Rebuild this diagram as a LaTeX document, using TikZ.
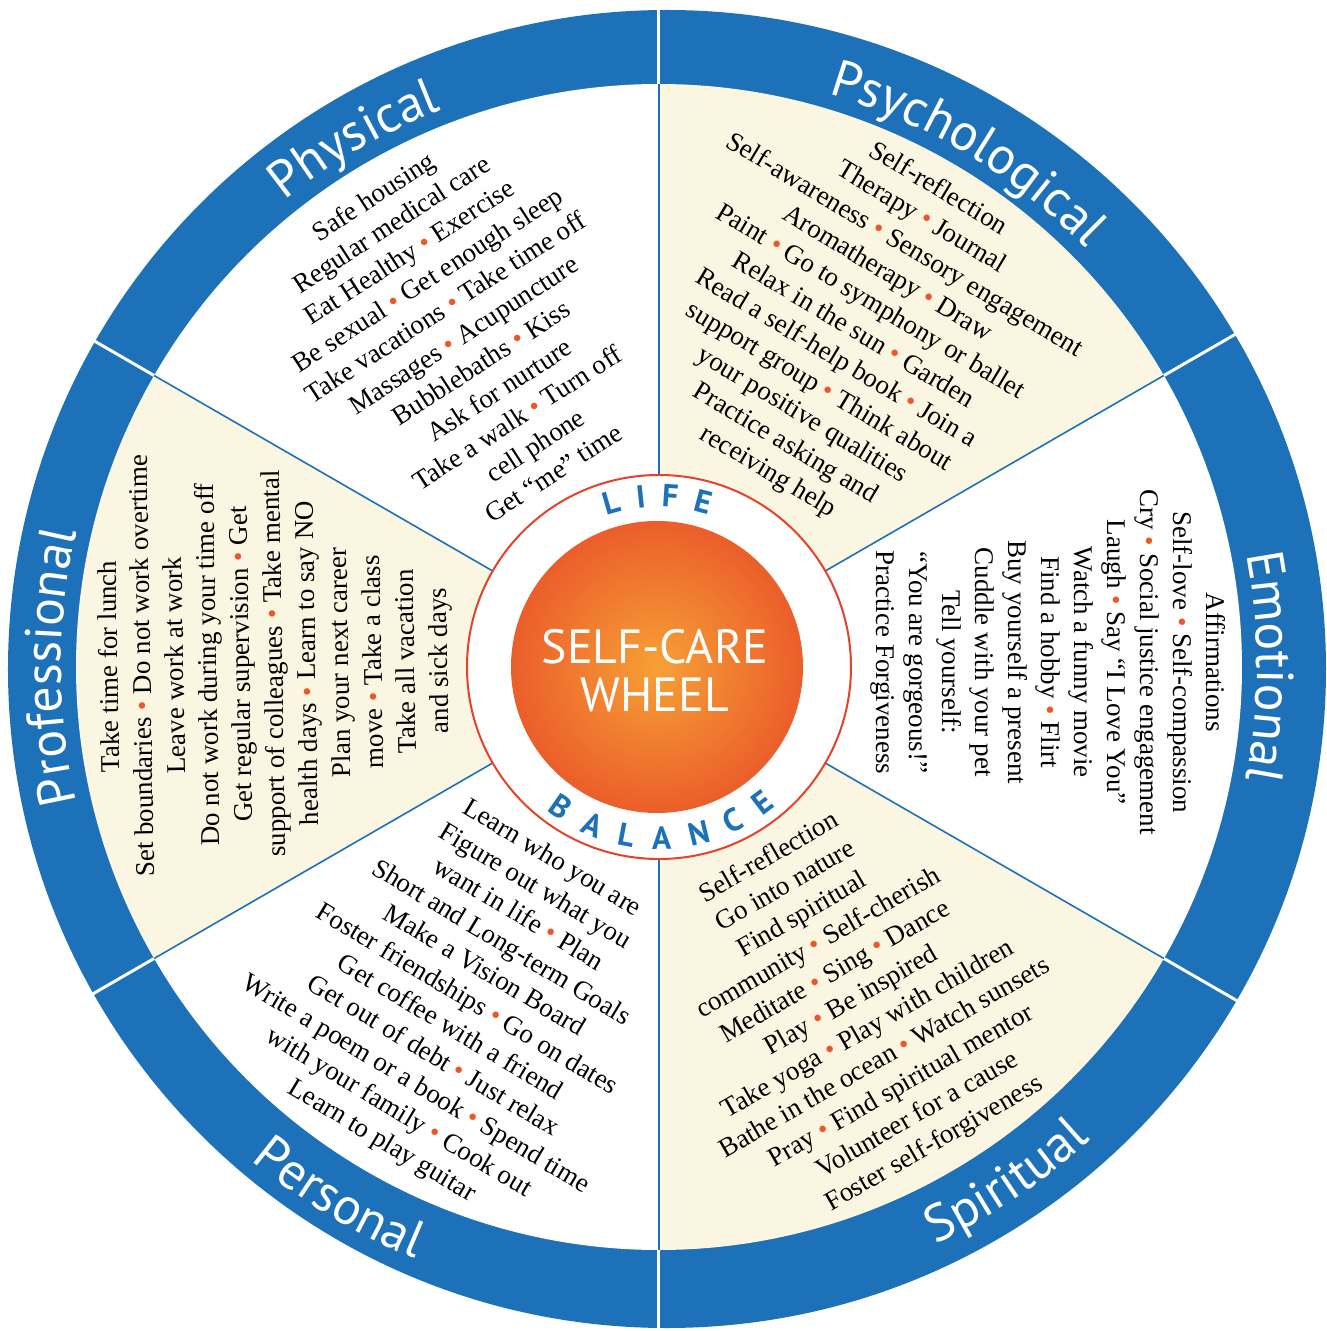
\documentclass[tikz,border=0pt]{standalone}
\usepackage{fontspec}
\setmainfont{Liberation Serif}
\setsansfont{PT Sans}
\usetikzlibrary{decorations.text}

\definecolor{ringblue}{HTML}{1D71B8}
\definecolor{cream}{HTML}{FBF6E1}
\definecolor{dotred}{HTML}{EE5529}
\definecolor{rimred}{HTML}{E6412A}
\definecolor{sunlight}{HTML}{F7A036}
\definecolor{sunedge}{HTML}{EB5E2A}

\newcommand{\reddot}{\ \textcolor{dotred}{\textbullet}\ }
\newcommand{\itemfont}{\fontsize{27}{33}\selectfont}
\newcommand{\catfont}{\sffamily\fontsize{52}{52}\selectfont\color{white}}
\newcommand{\hubfont}{\sffamily\bfseries\fontsize{32}{32}\selectfont\color{ringblue}}

\begin{document}
\begin{tikzpicture}[
    x=1pt, y=1pt,
    items/.style={align=center, font=\itemfont, inner sep=0pt},
    divider/.style={ringblue, line width=1.6pt},
    gap/.style={white, line width=3pt},
    catlabel/.style={decorate, decoration={text along path, text align=center, text={|\catfont|#1}}},
    hublabel/.style={decorate, decoration={text along path, text align=fit to path, text={|\hubfont|#1}}}
]
    % Frame with the proportions of the scan
    \useasboundingbox (-659,-664) rectangle (667,667);

    % Blue outer ring
    \fill[ringblue] (8,-2) circle[radius=659pt];

    % Six sectors, white and cream in turn
    \foreach \a/\col in {90/white, 30/cream, -30/white, -90/cream, -150/white, 150/cream}
        \fill[\col] (0,0) -- (\a:583pt) arc[start angle=\a, end angle=\a+60, radius=583pt] -- cycle;

    % Sector borders: blue inside, white across the ring
    \foreach \a in {30,90,...,330} {
        \draw[divider] (\a:190pt) -- (\a:583pt);
        \draw[gap] (\a:583pt) -- (\a:668pt);
    }

    % Hub
    \filldraw[fill=white, draw=rimred, line width=2pt] (0,0) circle[radius=192pt];
    \shade[inner color=sunlight, outer color=sunedge] (-2,0) circle[radius=146pt];
    \node[font=\sffamily\fontsize{48}{48}\selectfont, text=white, align=center] (hub) at (-4,-4) {SELF-CARE\\WHEEL};
    \path[hublabel=LIFE] (109:160pt) arc[start angle=109, end angle=72, radius=160pt];
    \path[hublabel=BALANCE] (232:182pt) arc[start angle=232, end angle=310, radius=182pt];

    % Category names on the ring
    \path[catlabel=Physical] (150:598pt) arc[start angle=150, end angle=90, radius=598pt];
    \path[catlabel=Psychological] (89:598pt) arc[start angle=89, end angle=29, radius=598pt];
    \path[catlabel=Emotional] (30:598pt) arc[start angle=30, end angle=-30, radius=598pt];
    \path[catlabel=Professional] (210:598pt) arc[start angle=210, end angle=150, radius=598pt];
    \path[catlabel=Personal] (209:640pt) arc[start angle=209, end angle=269, radius=640pt];
    \path[catlabel=Spiritual] (274:640pt) arc[start angle=274, end angle=334, radius=640pt];

    % Lists in the sectors
    \node[items, rotate=33] (physical) at (120.5:386pt) {
        Safe housing\\
        Regular medical care\\
        Eat Healthy\reddot Exercise\\
        Be sexual\reddot Get enough sleep\\
        Take vacations\reddot Take time off\\
        Massages\reddot Acupuncture\\
        Bubblebaths\reddot Kiss\\
        Ask for nurture\\
        Take a walk\reddot Turn off\\
        cell phone\\
        Get “me” time};

    \node[items, rotate=-31] (psychological) at (60:388pt) {
        Self-reflection\\
        Therapy\reddot Journal\\
        Self-awareness\reddot Sensory engagement\\
        Aromatherapy\reddot Draw\\
        Paint\reddot Go to symphony or ballet\\
        Relax in the sun\reddot Garden\\
        Read a self-help book\reddot Join a\\
        support group\reddot Think about\\
        your positive qualities\\
        Practice asking and\\
        receiving help};

    \node[items, rotate=-90] (emotional) at (0.7:389pt) {
        Affirmations\\
        Self-love\reddot Self-compassion\\
        Cry\reddot Social justice engagement\\
        Laugh\reddot Say “I Love You”\\
        Watch a funny movie\\
        Find a hobby\reddot Flirt\\
        Buy yourself a present\\
        Cuddle with your pet\\
        Tell yourself:\\
        “You are gorgeous!”\\
        Practice Forgiveness};

    \node[items, rotate=30] (spiritual) at (-60:386pt) {
        Self-reflection\\
        Go into nature\\
        Find spiritual\\
        community\reddot Self-cherish\\
        Meditate\reddot Sing\reddot Dance\\
        Play\reddot Be inspired\\
        Take yoga\reddot Play with children\\
        Bathe in the ocean\reddot Watch sunsets\\
        Pray\reddot Find spiritual mentor\\
        Volunteer for a cause\\
        Foster self-forgiveness};

    \node[items, rotate=-31] (personal) at (240:385pt) {
        Learn who you are\\
        Figure out what you\\
        want in life\reddot Plan\\
        Short and Long-term Goals\\
        Make a Vision Board\\
        Foster friendships\reddot Go on dates\\
        Get coffee with a friend\\
        Get out of debt\reddot Just relax\\
        Write a poem or a book\reddot Spend time\\
        with your family\reddot Cook out\\
        Learn to play guitar};

    \node[items, rotate=91] (professional) at (179.5:383pt) {
        Take time for lunch\\
        Set boundaries\reddot Do not work overtime\\
        Leave work at work\\
        Do not work during your time off\\
        Get regular supervision\reddot Get\\
        support of colleagues\reddot Take mental\\
        health days\reddot Learn to say NO\\
        Plan your next career\\
        move\reddot Take a class\\
        Take all vacation\\
        and sick days};
\end{tikzpicture}
\end{document}
